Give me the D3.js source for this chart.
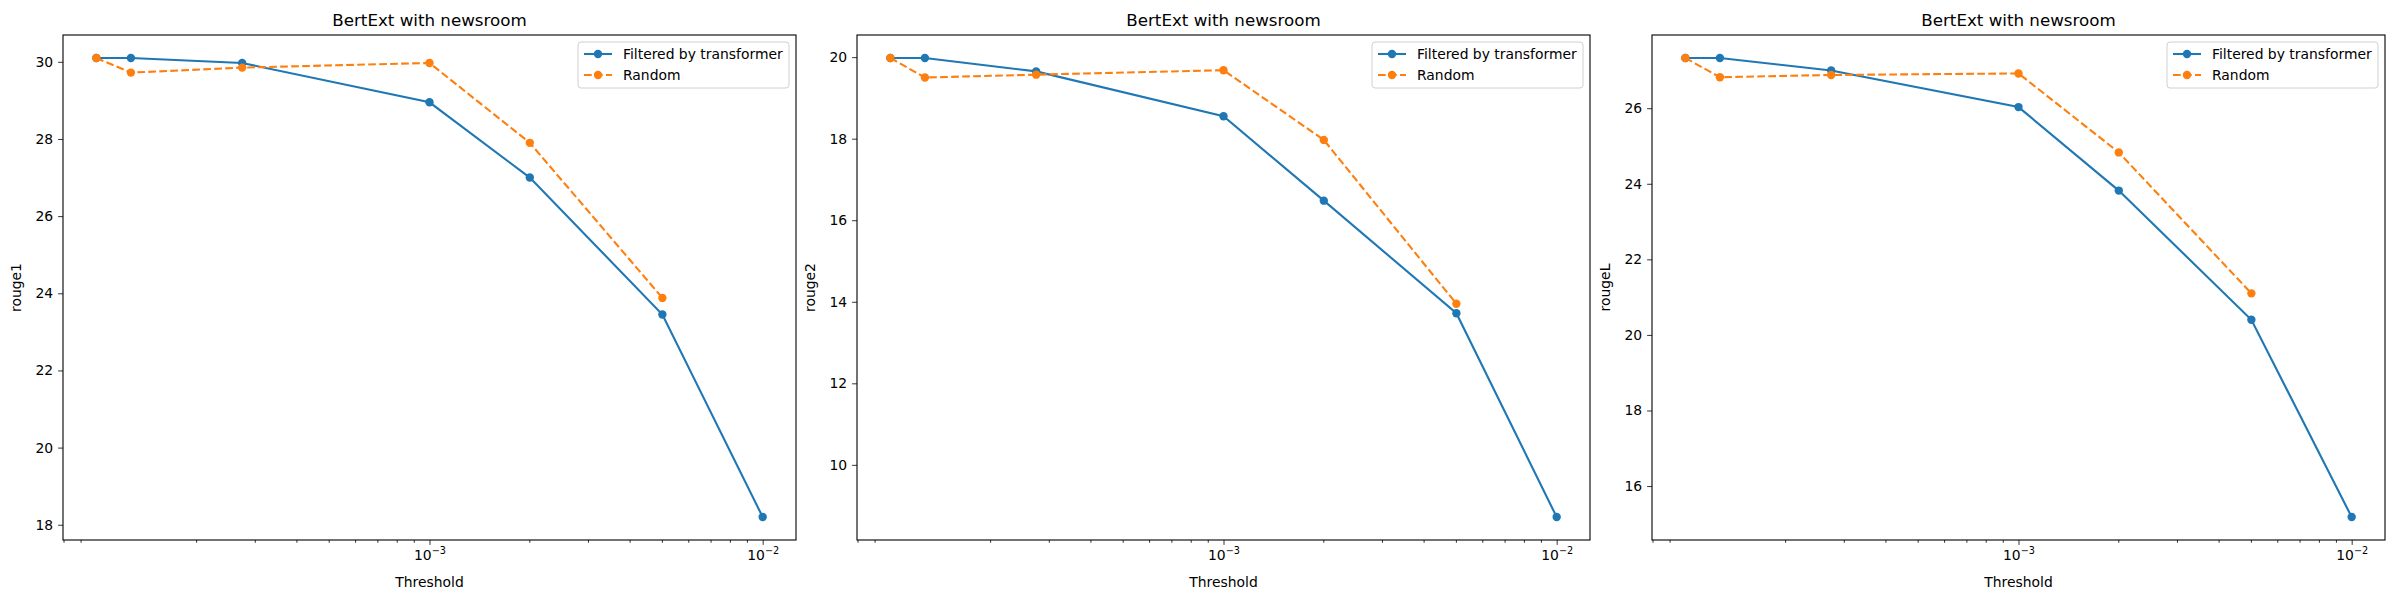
<!DOCTYPE html>
<html>
<head>
<meta charset="utf-8">
<script src="https://cdn.jsdelivr.net/npm/d3@7"></script>
<style>
  body { margin: 0; background: #fff; }
  text { font-family: "DejaVu Sans", sans-serif; }
</style>
</head>
<body>
<svg id="chart" width="2400" height="600"></svg>
<script>
// thresholds
const thresholds = [1e-4, 1.27e-4, 2.74e-4, 1e-3, 2e-3, 5e-3, 1e-2];
const randomThresholds = thresholds.slice(0, 6);

const metrics = ["rouge1", "rouge2", "rougeL"];
const filtered = {
  rouge1: [30.1, 30.1, 29.97, 28.95, 27.0, 23.45, 18.2],
  rouge2: [19.98, 19.98, 19.65, 18.55, 16.48, 13.72, 8.72],
  rougeL: [27.33, 27.33, 27.0, 26.03, 23.82, 20.4, 15.18]
};
const random = {
  rouge1: [30.1, 29.72, 29.85, 29.97, 27.9, 23.88],
  rouge2: [19.98, 19.5, 19.57, 19.68, 17.97, 13.95],
  rougeL: [27.33, 26.82, 26.88, 26.92, 24.83, 21.1]
};
const yTicks = {
  rouge1: [18, 20, 22, 24, 26, 28, 30],
  rouge2: [10, 12, 14, 16, 18, 20],
  rougeL: [16, 18, 20, 22, 24, 26]
};

const svg = d3.select("#chart");
const lefts = [63, 857, 1652];
const w = 733, topM = 35, h = 505;
const blue = "#1f77b4", orange = "#ff7f0e";

metrics.forEach((m, i) => {
  const g = svg.append("g").attr("transform", `translate(${lefts[i]},${topM})`);

  const x = d3.scaleLog().domain([Math.pow(10, -4.1), Math.pow(10, -1.9)]).range([0, w]);
  const all = filtered[m].concat(random[m]);
  const lo = d3.min(all), hi = d3.max(all), pad = (hi - lo) * 0.05;
  const y = d3.scaleLinear().domain([lo - pad, hi + pad]).range([h, 0]);

  // minor log ticks
  const minor = [];
  for (let e = -5; e <= -2; e++) for (let k = 2; k <= 9; k++) {
    const v = k * Math.pow(10, e);
    if (v >= x.domain()[0] && v <= x.domain()[1]) minor.push(v);
  }
  g.append("g").attr("transform", `translate(0,${h})`)
    .selectAll("line").data(minor).join("line")
    .attr("x1", d => x(d)).attr("x2", d => x(d)).attr("y1", 0).attr("y2", 2.8)
    .attr("stroke", "#000").attr("stroke-width", 0.8);

  const xAxis = g.append("g").attr("transform", `translate(0,${h})`)
    .call(d3.axisBottom(x).tickValues([1e-3, 1e-2]).tickSize(4.9).tickPadding(5).tickFormat(() => ""));
  xAxis.selectAll(".tick").each(function(d) {
    const t = d3.select(this).select("text").attr("font-size", 13.9).attr("fill", "#000")
      .style("font-family", "DejaVu Sans");
    t.append("tspan").text("10");
    t.append("tspan").attr("dy", -6).attr("font-size", 9.7).text("\u2212" + Math.round(-Math.log10(d)));
  });

  const yAxis = g.append("g")
    .call(d3.axisLeft(y).tickValues(yTicks[m]).tickSize(4.9).tickPadding(5));
  yAxis.selectAll("text").attr("font-size", 13.9).attr("fill", "#000").style("font-family", "DejaVu Sans");
  [xAxis, yAxis].forEach(a => {
    a.select(".domain").remove();
    a.selectAll("line").attr("stroke-width", 0.8);
  });

  g.append("rect").attr("width", w).attr("height", h)
    .attr("fill", "none").attr("stroke", "#000").attr("stroke-width", 1.1);

  const line = d3.line().x(d => x(d[0])).y(d => y(d[1]));
  const bluePts = thresholds.map((t, j) => [t, filtered[m][j]]);
  const orangePts = randomThresholds.map((t, j) => [t, random[m][j]]);

  g.append("path").datum(bluePts).attr("d", line)
    .attr("fill", "none").attr("stroke", blue).attr("stroke-width", 2.1);
  g.selectAll(".b").data(bluePts).join("circle").attr("class", "b")
    .attr("cx", d => x(d[0])).attr("cy", d => y(d[1])).attr("r", 4.2).attr("fill", blue);
  g.append("path").datum(orangePts).attr("d", line)
    .attr("fill", "none").attr("stroke", orange).attr("stroke-width", 2.1)
    .attr("stroke-dasharray", "7.7,3.3");
  g.selectAll(".o").data(orangePts).join("circle").attr("class", "o")
    .attr("cx", d => x(d[0])).attr("cy", d => y(d[1])).attr("r", 4.2).attr("fill", orange);

  // title and labels
  g.append("text").attr("x", w / 2).attr("y", -9).attr("text-anchor", "middle")
    .attr("font-size", 16.7).text("BertExt with newsroom");
  g.append("text").attr("x", w / 2).attr("y", h + 47).attr("text-anchor", "middle")
    .attr("font-size", 13.9).text("Threshold");
  g.append("text").attr("transform", `translate(-42,${h / 2}) rotate(-90)`)
    .attr("text-anchor", "middle").attr("font-size", 13.9).text(m);

  // legend
  const lw = 211, lh = 46;
  const lg = g.append("g").attr("transform", `translate(${w - lw - 7},7)`);
  lg.append("rect").attr("width", lw).attr("height", lh).attr("rx", 3)
    .attr("fill", "#fff").attr("fill-opacity", 0.8).attr("stroke", "#d0d0d0");
  [["Filtered by transformer", blue, null], ["Random", orange, "7.7,3.3"]].forEach((e, k) => {
    const yy = 12 + k * 21;
    lg.append("line").attr("x1", 6).attr("x2", 34).attr("y1", yy).attr("y2", yy)
      .attr("stroke", e[1]).attr("stroke-width", 2.1).attr("stroke-dasharray", e[2]);
    lg.append("circle").attr("cx", 20).attr("cy", yy).attr("r", 4.2).attr("fill", e[1]);
    lg.append("text").attr("x", 45).attr("y", yy + 5).attr("font-size", 13.9).text(e[0]);
  });
});
</script>
</body>
</html>
